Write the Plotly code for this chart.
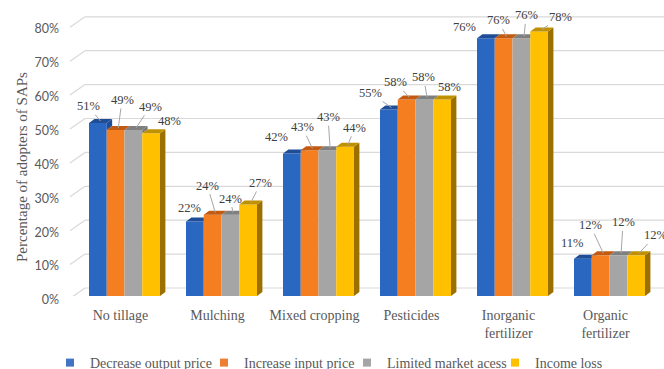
import plotly.graph_objects as go

# ---- data -------------------------------------------------------------
categories = ["No tillage", "Mulching", "Mixed cropping", "Pesticides",
              "Inorganic<br>fertilizer", "Organic<br>fertilizer"]
series_names = ["Decrease output price", "Increase input price",
                "Limited market acess", "Income loss"]
decrease_output_price = [51, 22, 42, 55, 76, 11]
increase_input_price = [49, 24, 43, 58, 76, 12]
limited_market_access = [49, 24, 43, 58, 76, 12]
income_loss = [48, 27, 44, 58, 78, 12]
y_ticks = [0, 10, 20, 30, 40, 50, 60, 70, 80]

series_values = [decrease_output_price, increase_input_price,
                 limited_market_access, income_loss]

# ---- styles -----------------------------------------------------------
front_colors = ["#2A67C0", "#F47E20", "#A5A5A5", "#FFC000"]
top_colors = ["#1F4E96", "#C25A12", "#7F7F7F", "#BF9000"]
side_colors = ["#1F4E96", "#B35810", "#767676", "#9C7000"]
legend_colors = ["#4472C4", "#ED7D31", "#A5A5A5", "#FFC000"]
legend_entry_widths = [109, 98, 103, 80]

# label placement (pixel offset from the top face centre, leader shown?)
label_offsets = [
    [(-12.5, -15, True), (3.7, -28, True), (14, -21, True), (16, -10, False)],
    [(-8.5, -11, False), (-8, -27, True), (-3, -14, True), (10, -19.5, True)],
    [(-18.5, -14.6, False), (-10, -21, True), (-2, -31, True), (7, -17, True)],
    [(-21.5, -14.5, True), (-14, -15, True), (-3.5, -20, True), (5, -10, False)],
    [(-24.5, -9.4, False), (-8, -16, True), (2, -21, True), (19, -12.6, True)],
    [(-13.5, -13.7, False), (-13, -28, True), (2, -31, True), (17, -18, True)],
]

# ---- geometry ---------------------------------------------------------
W, H = 664, 369
X_LEFT_PX, X_RIGHT_PX = 76, 658
Y0_PX = 296
PX_PER_PCT = 3.39
Y_MAX = 86
Y_TOP_PX = Y0_PX - Y_MAX * PX_PER_PCT
PX_PER_CAT = (X_RIGHT_PX - X_LEFT_PX) / len(categories)

GROUP_FRAC = 0.732
BAR_W = GROUP_FRAC / len(series_values)
DEPTH_DX_PX, DEPTH_DY_PX = 5.4, 4.0
dx = DEPTH_DX_PX / PX_PER_CAT
dy = DEPTH_DY_PX / PX_PER_PCT

# back wall offset for the gridlines
WALL_X0_PX, WALL_X1_PX = 70, 85
WALL_LIFT = 8 / PX_PER_PCT
FRONT_DROP = 2.5 / PX_PER_PCT

SERIF = "Liberation Serif, Times New Roman, serif"
SANS = "Lato, Open Sans, sans-serif"

fig = go.Figure()

xs = list(range(len(categories)))
for k, (name, vals) in enumerate(zip(series_names, series_values)):
    fig.add_trace(go.Bar(
        x=xs, y=vals, name=name,
        width=BAR_W, offset=-GROUP_FRAC / 2 + k * BAR_W,
        marker=dict(color=front_colors[k], line=dict(width=0)),
        showlegend=False,
    ))
    # legend entry with a small square swatch
    fig.add_trace(go.Scatter(
        x=[None], y=[None], mode="markers", name=name,
        legendwidth=legend_entry_widths[k],
        marker=dict(symbol="square", size=8, color=legend_colors[k]),
    ))

shapes = []

# gridlines on the back wall, joined to the front edge by a short diagonal
for v in y_ticks:
    line_style = dict(color="#D9D9D9", width=1.2)
    shapes.append(dict(type="line", xref="paper", yref="y", layer="below",
                       x0=WALL_X1_PX / W, x1=1, y0=v + WALL_LIFT, y1=v + WALL_LIFT,
                       line=line_style))
    shapes.append(dict(type="line", xref="paper", yref="y", layer="below",
                       x0=WALL_X0_PX / W, x1=WALL_X1_PX / W,
                       y0=v - FRONT_DROP, y1=v + WALL_LIFT, line=line_style))


def poly(points):
    return "M " + " L ".join(f"{px:.5f},{py:.5f}" for px, py in points) + " Z"


# top and side faces of each column, clipped where the next column hides them
for i in xs:
    for k in range(len(series_values)):
        a = i - GROUP_FRAC / 2 + k * BAR_W
        b = a + BAR_W
        v = series_values[k][i]
        vn = series_values[k + 1][i] if k + 1 < len(series_values) else 0
        if vn < v:
            shapes.append(dict(type="path", xref="x", yref="y", layer="above",
                               path=poly([(b, vn), (b, v), (b + dx, v + dy), (b + dx, vn + dy)]),
                               fillcolor=side_colors[k], line=dict(width=0)))
        vc = min(max(vn, v), v + dy)
        shapes.append(dict(type="path", xref="x", yref="y", layer="above",
                           path=poly([(a, v), (b, v), (b, vc),
                                      (b + dx * (vc - v) / dy, vc),
                                      (b + dx, v + dy), (a + dx, v + dy)]),
                           fillcolor=top_colors[k], line=dict(width=0)))

annotations = []
for i in xs:
    for k in range(len(series_values)):
        v = series_values[k][i]
        ax, ay, leader = label_offsets[i][k]
        x_centre = i - GROUP_FRAC / 2 + (k + 0.5) * BAR_W
        annotations.append(dict(
            x=x_centre, y=v, xref="x", yref="y",
            xshift=DEPTH_DX_PX / 2, yshift=DEPTH_DY_PX / 2,
            text=f"{v}%", showarrow=True, axref="pixel", ayref="pixel",
            ax=ax, ay=ay, arrowhead=0, arrowwidth=1, standoff=0, startstandoff=0,
            arrowcolor="#A6A6A6" if leader else "rgba(0,0,0,0)",
            font=dict(family=SERIF, size=12.5, color="#404040"),
        ))

annotations.append(dict(
    x=22 / W, y=(H - 167) / H, xref="paper", yref="paper",
    xanchor="center", yanchor="middle",
    text="Percentage of adopters of SAPs", textangle=-90, showarrow=False,
    font=dict(family=SERIF, size=15, color="#595959"),
))

fig.update_layout(
    width=W, height=H,
    margin=dict(l=0, r=0, t=0, b=0, pad=0, autoexpand=False),
    paper_bgcolor="white", plot_bgcolor="white",
    barmode="overlay",
    shapes=shapes, annotations=annotations,
    xaxis=dict(
        domain=[X_LEFT_PX / W, X_RIGHT_PX / W], range=[-0.5, len(categories) - 0.5],
        tickvals=xs, ticktext=categories, showgrid=False, zeroline=False,
        showline=False, ticks="", ticklabelshift=-4, ticklabelstandoff=9,
        automargin=False,
        tickfont=dict(family=SERIF, size=14, color="#595959"),
    ),
    yaxis=dict(
        domain=[(H - Y0_PX) / H, (H - Y_TOP_PX) / H], range=[0, Y_MAX],
        tickvals=y_ticks, ticktext=[f"{t}%" for t in y_ticks],
        showgrid=False, zeroline=False, showline=False, ticks="",
        ticklabelshift=4, ticklabelstandoff=16, automargin=False,
        tickfont=dict(family=SANS, size=12.5, color="#595959"),
    ),
    legend=dict(
        orientation="h", x=50 / W, xanchor="left", y=(H - 363) / H, yanchor="middle",
        bgcolor="rgba(0,0,0,0)",
        font=dict(family=SERIF, size=14, color="#595959"),
    ),
)

fig.write_html("out.html")
